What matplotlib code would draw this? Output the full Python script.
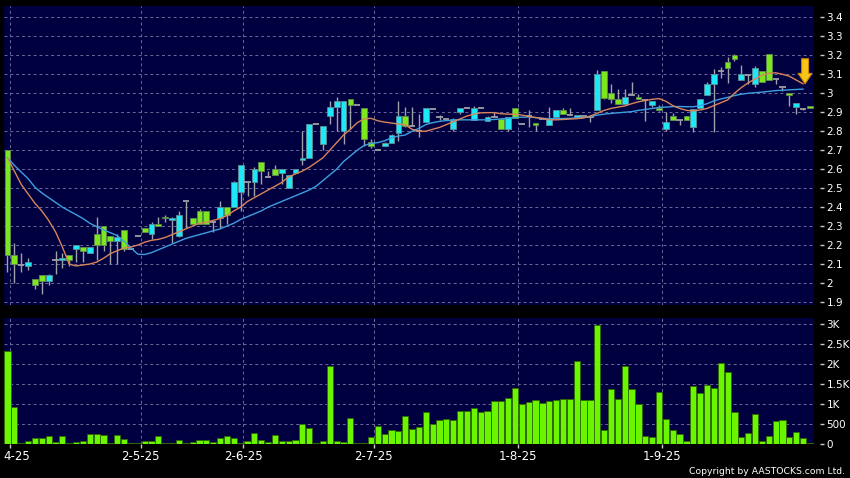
import matplotlib
matplotlib.use('Agg')
import matplotlib.pyplot as plt
import numpy as np
from matplotlib.patches import FancyArrowPatch
from matplotlib.transforms import ScaledTranslation

# ---------------- data ----------------
opens = [2.70, 2.15, 2.095, 2.09, 2.02, 2.04, 2.01, 2.12, 2.12, 2.15,
         2.18, 2.19, 2.16, 2.26, 2.30, 2.25, 2.22, 2.28, 2.18, 2.25,
         2.29, 2.26, 2.31, 2.35, 2.33, 2.25, 2.43, 2.34, 2.38, 2.38,
         2.32, 2.34, 2.40, 2.40, 2.48, 2.53, 2.53, 2.64, 2.56, 2.60,
         2.58, 2.50, 2.58, 2.65, 2.66, 2.84, 2.73, 2.88, 2.93, 2.80,
         2.97, 2.94, 2.92, 2.745, 2.70, 2.72, 2.74, 2.79, 2.88, 2.83,
         2.80, 2.85, 2.915, 2.875, 2.865, 2.81, 2.90, 2.92, 2.86, 2.925,
         2.855, 2.875, 2.865, 2.81, 2.92, 2.84, 2.88, 2.845, 2.865, 2.835,
         2.875, 2.91, 2.885, 2.877, 2.88, 2.873, 2.91, 3.115, 3.00, 2.97,
         2.945, 2.99, 2.978, 2.965, 2.938, 2.92, 2.81, 2.878, 2.86, 2.878,
         2.82, 2.925, 2.99, 3.047, 3.115, 3.167, 3.20, 3.07, 3.096, 3.047,
         3.115, 3.205, 3.073, 3.031, 3.00, 2.926, 2.917, 2.935]
highs = [2.70, 2.21, 2.16, 2.13, 2.02, 2.04, 2.05, 2.17, 2.16, 2.15,
         2.20, 2.19, 2.19, 2.35, 2.30, 2.25, 2.26, 2.28, 2.18, 2.25,
         2.29, 2.32, 2.35, 2.36, 2.35, 2.38, 2.43, 2.34, 2.39, 2.38,
         2.32, 2.43, 2.40, 2.54, 2.62, 2.53, 2.61, 2.64, 2.59, 2.62,
         2.60, 2.57, 2.60, 2.80, 2.84, 2.84, 2.83, 2.96, 2.98, 2.96,
         2.97, 2.94, 2.92, 2.76, 2.70, 2.745, 2.785, 2.96, 2.93, 2.93,
         2.89, 2.925, 2.915, 2.885, 2.865, 2.87, 2.925, 2.92, 2.935, 2.925,
         2.88, 2.90, 2.87, 2.875, 2.925, 2.84, 2.91, 2.845, 2.865, 2.93,
         2.91, 2.92, 2.92, 2.885, 2.88, 2.873, 3.125, 3.12, 3.05, 3.025,
         3.025, 3.06, 2.995, 2.965, 2.96, 2.94, 2.90, 2.895, 2.86, 2.878,
         2.917, 2.968, 3.06, 3.128, 3.137, 3.19, 3.205, 3.15, 3.096, 3.145,
         3.115, 3.205, 3.073, 3.035, 3.00, 2.947, 2.92, 2.935]
lows = [2.06, 2.00, 2.06, 2.07, 1.97, 1.94, 1.99, 2.05, 2.08, 2.09,
        2.11, 2.11, 2.16, 2.12, 2.17, 2.10, 2.10, 2.17, 2.18, 2.25,
        2.27, 2.23, 2.30, 2.32, 2.21, 2.24, 2.29, 2.31, 2.31, 2.31,
        2.27, 2.29, 2.31, 2.40, 2.38, 2.46, 2.46, 2.52, 2.56, 2.57,
        2.52, 2.50, 2.58, 2.62, 2.66, 2.84, 2.70, 2.84, 2.80, 2.73,
        2.81, 2.94, 2.72, 2.71, 2.70, 2.72, 2.74, 2.75, 2.82, 2.83,
        2.77, 2.85, 2.915, 2.86, 2.865, 2.80, 2.89, 2.92, 2.86, 2.925,
        2.855, 2.875, 2.81, 2.80, 2.87, 2.84, 2.82, 2.80, 2.865, 2.835,
        2.87, 2.89, 2.885, 2.877, 2.88, 2.85, 2.91, 2.97, 2.95, 2.945,
        2.945, 2.99, 2.968, 2.855, 2.93, 2.905, 2.80, 2.86, 2.835, 2.86,
        2.797, 2.925, 2.99, 2.797, 3.08, 3.056, 3.17, 3.07, 3.047, 3.035,
        3.058, 3.07, 3.047, 3.01, 2.933, 2.89, 2.91, 2.92]
closes = [2.15, 2.10, 2.095, 2.11, 1.99, 2.01, 2.04, 2.12, 2.13, 2.12,
          2.20, 2.17, 2.19, 2.20, 2.20, 2.22, 2.24, 2.18, 2.18, 2.25,
          2.27, 2.31, 2.30, 2.34, 2.34, 2.36, 2.43, 2.31, 2.31, 2.31,
          2.32, 2.40, 2.36, 2.53, 2.62, 2.53, 2.60, 2.59, 2.56, 2.57,
          2.60, 2.57, 2.60, 2.66, 2.84, 2.84, 2.83, 2.93, 2.96, 2.96,
          2.94, 2.94, 2.76, 2.72, 2.70, 2.74, 2.78, 2.88, 2.825, 2.83,
          2.80, 2.92, 2.915, 2.875, 2.865, 2.865, 2.92, 2.92, 2.925, 2.925,
          2.875, 2.875, 2.81, 2.875, 2.87, 2.84, 2.88, 2.835, 2.865, 2.865,
          2.91, 2.89, 2.885, 2.885, 2.88, 2.873, 3.10, 2.975, 2.97, 2.945,
          2.978, 2.99, 2.968, 2.965, 2.958, 2.91, 2.85, 2.86, 2.86, 2.86,
          2.917, 2.968, 3.047, 3.10, 3.115, 3.135, 3.18, 3.10, 3.096, 3.135,
          3.058, 3.07, 3.073, 3.031, 2.99, 2.947, 2.917, 2.92]
volumes = [2317, 925, 10, 58, 133, 142, 183, 50, 192, 10,
           33, 67, 233, 250, 208, 5, 208, 108, 10, 10,
           75, 75, 200, 10, 5, 100, 3, 33, 100, 100,
           50, 150, 200, 133, 10, 58, 258, 83, 33, 217,
           67, 67, 100, 492, 392, 3, 67, 1933, 58, 33,
           642, 5, 3, 167, 433, 242, 333, 317, 683, 375,
           417, 795, 480, 600, 610, 600, 820, 820, 890, 800,
           810, 1060, 1060, 1150, 1400, 1000, 1040, 1100, 1010, 1060,
           1090, 1120, 1120, 2070, 1080, 1080, 2980, 330, 1360, 1110,
           1940, 1380, 990, 190, 170, 1290, 610, 330, 240, 70,
           1450, 1260, 1460, 1400, 2020, 1800, 800, 160, 270, 750,
           70, 190, 570, 580, 170, 300, 130, 20]
ma_fast = [2.66, 2.59, 2.52, 2.47, 2.42, 2.38, 2.33, 2.27, 2.19, 2.10,
           2.09, 2.095, 2.10, 2.11, 2.13, 2.155, 2.17, 2.185, 2.19, 2.20,
           2.215, 2.225, 2.23, 2.24, 2.255, 2.27, 2.285, 2.30, 2.315, 2.32,
           2.33, 2.34, 2.355, 2.38, 2.40, 2.43, 2.45, 2.47, 2.49, 2.51,
           2.53, 2.56, 2.575, 2.59, 2.61, 2.635, 2.66, 2.70, 2.74, 2.78,
           2.81, 2.845, 2.865, 2.868, 2.855, 2.848, 2.843, 2.838, 2.833, 2.81,
           2.80, 2.80, 2.81, 2.82, 2.835, 2.85, 2.865, 2.88, 2.89, 2.897,
           2.898, 2.898, 2.892, 2.89, 2.89, 2.885, 2.878, 2.872, 2.868, 2.86,
           2.86, 2.862, 2.864, 2.866, 2.87, 2.88, 2.895, 2.91, 2.92, 2.927,
           2.933, 2.945, 2.955, 2.962, 2.968, 2.972, 2.958, 2.935, 2.92, 2.91,
           2.907, 2.912, 2.92, 2.935, 2.95, 2.965, 3.0, 3.03, 3.055, 3.075,
           3.095, 3.105, 3.108, 3.10, 3.09, 3.07, 3.05]
ma_slow = [2.66, 2.62, 2.585, 2.55, 2.505, 2.475, 2.45, 2.425, 2.40, 2.38,
           2.36, 2.34, 2.315, 2.297, 2.28, 2.265, 2.25, 2.22, 2.185, 2.152,
           2.15, 2.16, 2.175, 2.19, 2.205, 2.22, 2.235, 2.245, 2.255, 2.265,
           2.275, 2.285, 2.30, 2.315, 2.335, 2.35, 2.365, 2.38, 2.40, 2.415,
           2.43, 2.445, 2.46, 2.475, 2.49, 2.51, 2.54, 2.57, 2.60, 2.64,
           2.67, 2.70, 2.725, 2.735, 2.74, 2.75, 2.765, 2.775, 2.78, 2.80,
           2.815, 2.835, 2.845, 2.852, 2.856, 2.858, 2.86, 2.86, 2.86, 2.86,
           2.86, 2.862, 2.865, 2.868, 2.872, 2.874, 2.875, 2.872, 2.868, 2.866,
           2.866, 2.867, 2.868, 2.87, 2.872, 2.878, 2.885, 2.89, 2.894, 2.897,
           2.90, 2.903, 2.91, 2.915, 2.92, 2.925, 2.927, 2.93, 2.93, 2.929,
           2.929, 2.935, 2.945, 2.96, 2.97, 2.978, 2.988, 2.995, 3.0, 3.003,
           3.006, 3.01, 3.014, 3.016, 3.018, 3.02, 3.022]
date_tick_idx = [0, 19, 34, 53, 74, 95]
date_labels = ['4-25', '2-5-25', '2-6-25', '2-7-25', '1-8-25', '1-9-25']
price_ticks = [1.9, 2.0, 2.1, 2.2, 2.3, 2.4, 2.5, 2.6, 2.7, 2.8, 2.9, 3.0, 3.1, 3.2, 3.3, 3.4]
price_labels = ['1.9', '2', '2.1', '2.2', '2.3', '2.4', '2.5', '2.6', '2.7', '2.8',
                '2.9', '3', '3.1', '3.2', '3.3', '3.4']
vol_ticks = [0, 500, 1000, 1500, 2000, 2500, 3000]
vol_labels = ['0', '500', '1K', '1.5K', '2K', '2.5K', '3K']

# ---------------- style ----------------
BG = '#000040'
GRID = '#6a6a9a'
CYAN = '#1ee8f5'
GREEN = '#7ce61e'
VOLG = '#6cf500'
WICK = '#a0a0a8'
TXT = 'white'

W, H = 850, 478
fig = plt.figure(figsize=(W / 100, H / 100), dpi=100, facecolor='black')
ax = fig.add_axes([4 / W, 1 - 305 / H, 810 / W, 299 / H], facecolor=BG)
axv = fig.add_axes([4 / W, 1 - 443.5 / H, 810 / W, 125.5 / H], facecolor=BG, sharex=ax)

x = np.arange(len(closes))
o = np.array(opens); c = np.array(closes)
hi = np.array(highs); lo = np.array(lows)
up = c > o
dn = c < o
flat = c == o

# wicks
ax.vlines(x, lo, hi, color=WICK, lw=1.0, zorder=2)
# bodies
ax.bar(x[up], (c - o)[up], bottom=o[up], width=0.84, color=CYAN,
       edgecolor='#5d8c96', lw=0.6, zorder=3)
ax.bar(x[dn], (o - c)[dn], bottom=c[dn], width=0.84, color=GREEN,
       edgecolor='#5d8c50', lw=0.6, zorder=3)
ax.hlines(c[flat], x[flat] - 0.45, x[flat] + 0.45, color=WICK, lw=1.3, zorder=3)

# moving averages
xm = np.arange(len(ma_fast))
ax.plot(np.arange(len(ma_slow)), ma_slow, color='#3e9fe0', lw=1.0, zorder=4)
ax.plot(xm, ma_fast, color='#d8845a', lw=1.0, zorder=4)

# arrow at end of the fast MA
tip = (xm[-1] + 0.3, ma_fast[-1])
arr = FancyArrowPatch(posA=(tip[0], tip[1] + 0.132), posB=tip,
                      arrowstyle='simple,head_width=1.0,head_length=0.75,tail_width=0.5',
                      mutation_scale=10, fc='#f8c418', ec='#c98400', lw=0.8,
                      shrinkA=0, shrinkB=0, zorder=6)
ax.add_patch(arr)

# volume
axv.bar(x, volumes, width=0.9, color=VOLG, edgecolor='#2f6a00', lw=0.6, zorder=3)

# axes limits
ax.set_xlim(-0.51, 117.6)
ax.set_ylim(1.884, 3.46)
axv.set_ylim(0, 3150)

gx = [i + 0.4 for i in date_tick_idx]
for a in (ax, axv):
    for s in a.spines.values():
        s.set_visible(False)
    a.spines['right'].set_position(('outward', 4))
    a.yaxis.tick_right()
    a.set_xticks(gx)
    a.grid(True, color=GRID, lw=0.7, linestyle=(0, (3, 3)))
    a.set_axisbelow(True)
    a.tick_params(axis='y', colors=TXT, labelsize=7.5, length=3, width=1,
                  pad=2, color='#c8c8c8')

ax.set_yticks(price_ticks)
ax.set_yticklabels(price_labels)
ax.tick_params(axis='x', length=0, labelbottom=False)

axv.set_yticks(vol_ticks)
axv.set_yticklabels(vol_labels)
axv.set_xticklabels(date_labels)
axv.tick_params(axis='x', colors=TXT, labelsize=8.5, length=3, width=1,
                pad=2, color='#c8c8c8', direction='out')
# first (partly off-chart) date label: keep it fully inside the figure
first = axv.get_xticklabels()[0]
first.set_horizontalalignment('left')
first.set_transform(first.get_transform() + ScaledTranslation(-0.065, 0, fig.dpi_scale_trans))

fig.text(845 / W, 1 - 471.5 / H, 'Copyright by AASTOCKS.com Ltd.', ha='right',
         va='center', color=TXT, fontsize=6.7)

fig.savefig('out.png', dpi=100, facecolor='black')
